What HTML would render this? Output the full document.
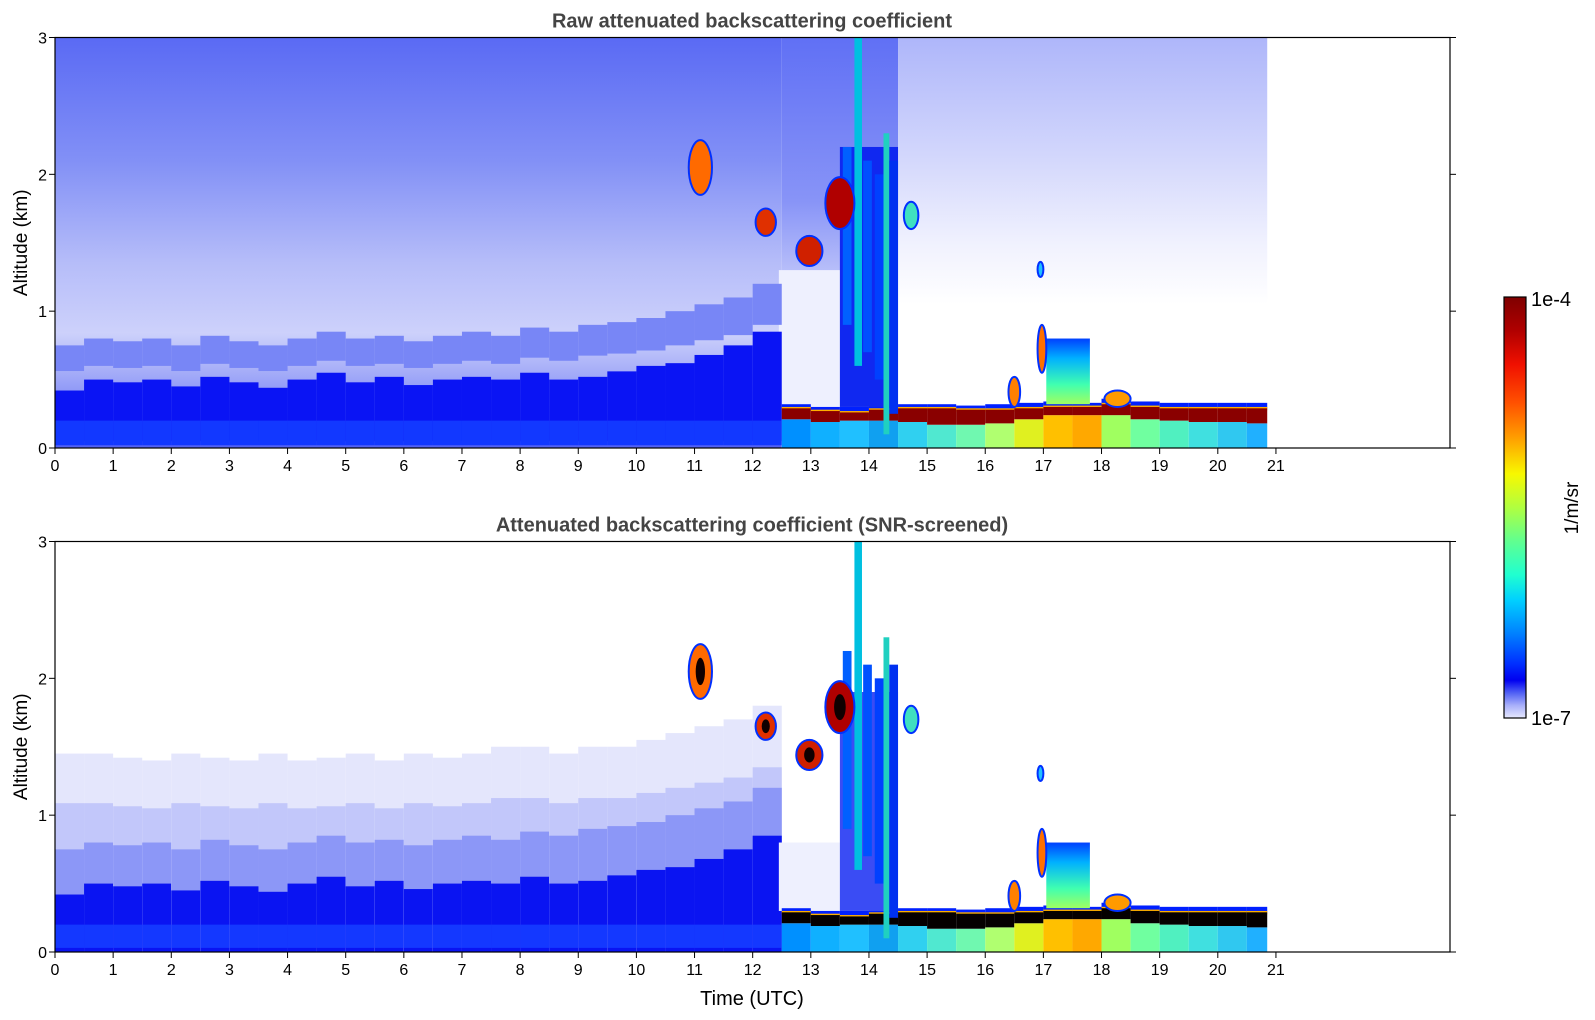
<!DOCTYPE html>
<html><head><meta charset="utf-8"><style>
body{margin:0;background:#fff;width:1595px;height:1020px;overflow:hidden;font-family:"Liberation Sans","DejaVu Sans",sans-serif}
svg{display:block}
</style></head><body>
<svg id="chart" width="1595" height="1020" xmlns="http://www.w3.org/2000/svg">
<defs>
<linearGradient id="noiseEarly" x1="0" y1="0" x2="0" y2="1">
<stop offset="0" stop-color="#5a6af4"/><stop offset="0.3" stop-color="#8290f6"/><stop offset="0.55" stop-color="#b6bdf9"/><stop offset="0.72" stop-color="#cdd1fb"/><stop offset="0.82" stop-color="#a3abf8"/><stop offset="1" stop-color="#5060f4"/>
</linearGradient>
<linearGradient id="noiseMid" x1="0" y1="0" x2="0" y2="1">
<stop offset="0" stop-color="#6070f5"/><stop offset="0.4" stop-color="#8894f7"/><stop offset="0.6" stop-color="#c0c6fa"/><stop offset="1" stop-color="#e8eafd"/>
</linearGradient>
<linearGradient id="noiseLate" x1="0" y1="0" x2="0" y2="1">
<stop offset="0" stop-color="#aeb6fa"/><stop offset="0.3" stop-color="#d4d8fc"/><stop offset="0.5" stop-color="#f0f1fe"/><stop offset="0.65" stop-color="#ffffff"/><stop offset="1" stop-color="#ffffff"/>
</linearGradient>
<linearGradient id="cbar" x1="0" y1="0" x2="0" y2="1">
<stop offset="0" stop-color="#7f0000"/><stop offset="0.08" stop-color="#b00000"/><stop offset="0.16" stop-color="#f01000"/><stop offset="0.25" stop-color="#ff5000"/><stop offset="0.33" stop-color="#ff9a00"/><stop offset="0.42" stop-color="#f8f800"/><stop offset="0.5" stop-color="#b0ff40"/><stop offset="0.58" stop-color="#60ff90"/><stop offset="0.66" stop-color="#20ffd0"/><stop offset="0.72" stop-color="#00d0ff"/><stop offset="0.8" stop-color="#0080ff"/><stop offset="0.87" stop-color="#0030ff"/><stop offset="0.91" stop-color="#0000f0"/><stop offset="0.94" stop-color="#5060f4"/><stop offset="0.97" stop-color="#a8affa"/><stop offset="1" stop-color="#e6e8fd"/>
</linearGradient>
<linearGradient id="plume" x1="0" y1="0" x2="0" y2="1">
<stop offset="0" stop-color="#0040ff"/><stop offset="0.3" stop-color="#00b0ff"/><stop offset="0.7" stop-color="#40ffb0"/><stop offset="1" stop-color="#a0ff60"/>
</linearGradient>
<clipPath id="clipTop"><rect x="55" y="37.5" width="1395" height="410.5"/></clipPath>
<clipPath id="clipBot"><rect x="55" y="541.5" width="1395" height="410.5"/></clipPath>
</defs>
<g id="topPlot" clip-path="url(#clipTop)"></g>
<g id="botPlot" clip-path="url(#clipBot)"></g>
<g id="axes"></g>
</svg>
<script>
const NS="http://www.w3.org/2000/svg";
// ---- data ----
const binStart=[0,0.5,1,1.5,2,2.5,3,3.5,4,4.5,5,5.5,6,6.5,7,7.5,8,8.5,9,9.5,10,10.5,11,11.5,12];
const blhEarly=[0.42,0.5,0.48,0.5,0.45,0.52,0.48,0.44,0.5,0.55,0.48,0.52,0.46,0.5,0.52,0.5,0.55,0.5,0.52,0.56,0.6,0.62,0.68,0.75,0.85];
const hazeTop=[1.45,1.45,1.42,1.4,1.45,1.42,1.4,1.45,1.4,1.42,1.45,1.4,1.45,1.42,1.45,1.5,1.5,1.45,1.5,1.5,1.55,1.6,1.65,1.7,1.8];
const midTop=[0.75,0.8,0.78,0.8,0.75,0.82,0.78,0.75,0.8,0.85,0.8,0.82,0.78,0.82,0.85,0.82,0.88,0.85,0.9,0.92,0.95,1.0,1.05,1.1,1.2];
const lateStart=[12.5,13,13.5,14,14.5,15,15.5,16,16.5,17,17.5,18,18.5,19,19.5,20,20.5];
const lateEnd=[13,13.5,14,14.5,15,15.5,16,16.5,17,17.5,18,18.5,19,19.5,20,20.5,20.85];
const layerTop=[0.32,0.3,0.3,0.32,0.32,0.32,0.31,0.32,0.33,0.34,0.33,0.36,0.34,0.33,0.33,0.33,0.33];
const redTop=[0.29,0.27,0.26,0.28,0.29,0.29,0.28,0.28,0.29,0.3,0.3,0.32,0.3,0.29,0.29,0.29,0.29];
const redBot=[0.21,0.19,0.2,0.2,0.19,0.17,0.17,0.18,0.21,0.24,0.24,0.24,0.21,0.2,0.19,0.19,0.18];
const groundColor=["#0090ff","#10b0ff","#20c0ff","#10a0f0","#30d0f0","#50e8d0","#70f8b0","#b0ff70","#e0f020","#ffc000","#ffa800","#a0ff60","#70ffa0","#50f0c0","#40e0e0","#30c8f0","#20b0ff"];
const cloudT0=[10.9,12.05,12.75,13.25,14.6,16.9,16.4,16.9,18.05];
const cloudT1=[11.3,12.4,13.2,13.75,14.85,17.0,16.6,17.05,18.5];
const cloudZ0=[1.85,1.55,1.33,1.6,1.6,1.25,0.3,0.55,0.3];
const cloudZ1=[2.25,1.75,1.55,1.98,1.8,1.36,0.52,0.9,0.42];
const cloudCol=["#ff6a00","#e03000","#d02000","#b00000","#40e0c0","#20c0ff","#ff8000","#ff7000","#ff9a00"];
const streakT0=[13.55,13.75,13.9,14.1,14.25,14.35];
const streakT1=[13.7,13.88,14.05,14.25,14.35,14.5];
const streakZ1=[2.2,3.0,2.1,2.0,2.3,2.1];
const streakZ0=[0.9,0.6,0.7,0.5,0.1,0.25];
const streakCol=["#0060ff","#00c0e0","#0050ff","#0040ff","#20d0c0","#0030f0"];
const xTicks=[0,1,2,3,4,5,6,7,8,9,10,11,12,13,14,15,16,17,18,19,20,21];
const yTicks=[0,1,2,3];
// ---- axes ----
const X0=55,X1=1450,PX=58.14;
const x=t=>X0+t*PX;
const panels=[{top:37.5,bot:448},{top:541.5,bot:952}];
const yf=(p,z)=>panels[p].bot-z*(panels[p].bot-panels[p].top)/3;
function el(parent,tag,attrs){const e=document.createElementNS(NS,tag);for(const k in attrs)e.setAttribute(k,attrs[k]);parent.appendChild(e);return e;}
function box(g,p,t0,t1,z0,z1,fill,name){const r=el(g,'rect',{x:x(t0),y:yf(p,z1),width:Math.max(0,x(t1)-x(t0)),height:Math.max(0,yf(p,z0)-yf(p,z1)),fill:fill});

return r;}
const gT=document.getElementById('topPlot'),gB=document.getElementById('botPlot');
// top panel backgrounds
box(gT,0,0,12.5,0,3,'url(#noiseEarly)','noise-early');
box(gT,0,12.5,14.5,0,3,'url(#noiseMid)','noise-mid');
box(gT,0,14.5,20.85,0,3,'url(#noiseLate)','noise-late');
box(gT,0,12.45,13.55,0.3,1.3,'#eef0fe','clear-gap');
binStart.forEach((t,i)=>{
 box(gT,0,t,t+0.5,midTop[i]*0.75,midTop[i],'#7886f6','haze-bin');
 box(gT,0,t,t+0.5,0.05,blhEarly[i],'#0a14f4','boundary-layer-bin');
 box(gT,0,t,t+0.5,0.02,0.2,'#1238ff','near-ground-bin');
 box(gB,1,t,t+0.5,0,hazeTop[i],'#e4e6fc','haze-light-bin');
 box(gB,1,t,t+0.5,0,hazeTop[i]*0.75,'#c2c7fa','haze-mid-bin');
 box(gB,1,t,t+0.5,0,midTop[i],'#8c97f7','haze-dense-bin');
 box(gB,1,t,t+0.5,0,blhEarly[i],'#0a14f2','boundary-layer-bin');
 box(gB,1,t,t+0.5,0.03,0.2,'#1438ff','near-ground-bin');
});
box(gB,1,12.45,13.55,0.3,0.8,'#eef0fe','clear-gap-haze');
lateStart.forEach((t,i)=>{
 [[0,gT],[1,gB]].forEach(([p,g])=>{
  box(g,p,t,lateEnd[i],0,redBot[i],groundColor[i],'ground-aerosol-bin');
  box(g,p,t,lateEnd[i],redTop[i],layerTop[i],'#0020ff','layer-edge-bin');
  box(g,p,t,lateEnd[i],redTop[i]-0.015,redTop[i]+0.01,'#ffb000','layer-edge-bin');
  box(g,p,t,lateEnd[i],redBot[i],redTop[i],p===0?'#8a0000':'#050000','aerosol-layer-bin');
 });
});
// streaks and clouds
[[0,gT],[1,gB]].forEach(([p,g])=>{
 box(g,p,13.5,14.5,0.3,p===0?2.2:1.9,p===0?'#1028f0':'#3a4cf4','streak-region');
 streakT0.forEach((t,i)=>box(g,p,t,streakT1[i],streakZ0[i],streakZ1[i],streakCol[i],'cloud-streak'));
 box(g,p,17.05,17.8,0.32,0.8,'url(#plume)','aerosol-plume');
 cloudT0.forEach((t,i)=>{
  const cx=(x(t)+x(cloudT1[i]))/2,cy=(yf(p,cloudZ0[i])+yf(p,cloudZ1[i]))/2;
  const rx=(x(cloudT1[i])-x(t))/2,ry=(yf(p,cloudZ0[i])-yf(p,cloudZ1[i]))/2;
  const e=el(g,'ellipse',{cx:cx,cy:cy,rx:rx,ry:ry,fill:cloudCol[i],stroke:'#0030ff','stroke-width':2});
  
  
  if(p===1&&i<4){const c=el(g,'ellipse',{cx:cx,cy:cy,rx:rx*0.4,ry:ry*0.5,fill:'#100000'});
   
   }
 });
});
// axes frames/ticks
const gA=document.getElementById('axes');
const titles=["Raw attenuated backscattering coefficient","Attenuated backscattering coefficient (SNR-screened)"];
panels.forEach((P,p)=>{
 const f=el(gA,'rect',{x:X0,y:P.top,width:X1-X0,height:P.bot-P.top,fill:'none',stroke:'#000','stroke-width':1.2});
 
 
 xTicks.forEach(v=>{el(gA,'line',{x1:x(v),x2:x(v),y1:P.bot,y2:P.bot+6,stroke:'#000'});
  const tx=el(gA,'text',{x:x(v),y:P.bot+23,'text-anchor':'middle','font-size':16});tx.textContent=v;
  
  });
 yTicks.forEach(v=>{const yy=yf(p,v);el(gA,'line',{x1:X0-6,x2:X0,y1:yy,y2:yy,stroke:'#000'});el(gA,'line',{x1:X1,x2:X1+6,y1:yy,y2:yy,stroke:'#000'});
  const tx=el(gA,'text',{x:X0-8,y:yy+6,'text-anchor':'end','font-size':16});tx.textContent=v;
  
  });
 const t=el(gA,'text',{x:752,y:P.top-10,'text-anchor':'middle','font-size':20,'font-weight':'bold',fill:'#444'});t.textContent=titles[p];
 
 
 const cy=(P.top+P.bot)/2;
 const yl=el(gA,'text',{x:27,y:cy,'text-anchor':'middle','font-size':19,transform:`rotate(-90 27 ${cy})`});yl.textContent='Altitude (km)';
 
 
});
const xl=el(gA,'text',{x:752,y:1005,'text-anchor':'middle','font-size':20});xl.textContent='Time (UTC)';


// colorbar
const cb=el(gA,'rect',{x:1504,y:297,width:22,height:421,fill:'url(#cbar)',stroke:'#000','stroke-width':1.2});


const c1=el(gA,'text',{x:1531,y:306,'font-size':20});c1.textContent='1e-4';


const c2=el(gA,'text',{x:1531,y:725,'font-size':20});c2.textContent='1e-7';


const cu=el(gA,'text',{x:1578,y:508,'text-anchor':'middle','font-size':19,transform:'rotate(-90 1578 508)'});cu.textContent='1/m/sr';


</script>
</body></html>
